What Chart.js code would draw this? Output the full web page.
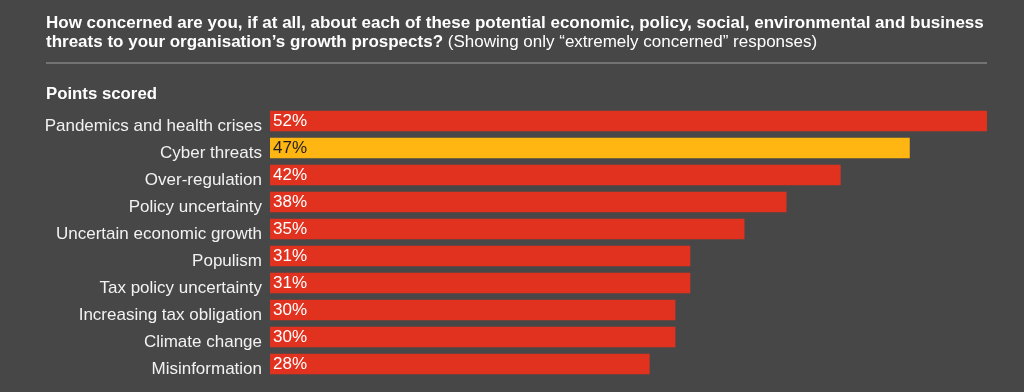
<!DOCTYPE html>
<html lang="en">
<head>
<meta charset="UTF-8" />
<title>Extremely concerned threats</title>
<style>
  html, body {
    margin: 0;
    padding: 0;
    background-color: #474747;
    font-family: 'Liberation Sans', Arial, Helvetica, sans-serif;
    color: #fff;
  }
  #wrap {
    position: relative;
    width: 1024px;
    height: 392px;
    overflow: hidden;
  }
  #title {
    position: absolute;
    left: 46px;
    top: 12.5px;
    width: 980px;
    font-size: 17px;
    line-height: 19.5px;
    font-weight: bold;
    white-space: nowrap;
  }
  #title span { font-weight: normal; }
  #rule {
    position: absolute;
    left: 46px;
    top: 61.5px;
    width: 941px;
    height: 2px;
    background: #737373;
  }
  #sub {
    position: absolute;
    left: 46px;
    top: 84px;
    font-size: 16.8px;
    font-weight: bold;
  }
  #chart {
    position: absolute;
    left: 0;
    top: 0;
  }
</style>
</head>
<body>
<div id="wrap">
  <canvas id="chart" width="1024" height="392"></canvas>
  <div id="title">How concerned are you, if at all, about each of these potential economic, policy, social, environmental and business<br>threats to your organisation’s growth prospects? <span>(Showing only “extremely concerned” responses)</span></div>
  <div id="rule"></div>
  <div id="sub">Points scored</div>
</div>
<script src="https://cdn.jsdelivr.net/npm/chart.js@4.4.0/dist/chart.umd.min.js"></script>
<script>
  // data
  const threats = ['Pandemics and health crises', 'Cyber threats', 'Over-regulation', 'Policy uncertainty',
    'Uncertain economic growth', 'Populism', 'Tax policy uncertainty', 'Increasing tax obligation',
    'Climate change', 'Misinformation'];
  const barValues = [52.9, 47.2, 42.1, 38.1, 35.0, 31.0, 31.0, 29.9, 29.9, 28.0];
  const shownPct = [52, 47, 42, 38, 35, 31, 31, 30, 30, 28];
  const highlight = [false, true, false, false, false, false, false, false, false, false];

  const RED = '#e1321f';
  const YELLOW = '#ffb612';

  // draw the % labels inside the bars
  const valueLabels = {
    id: 'valueLabels',
    afterDatasetsDraw(chart) {
      const ctx = chart.ctx;
      const meta = chart.getDatasetMeta(0);
      ctx.save();
      ctx.font = '17px "Liberation Sans", Arial, sans-serif';
      ctx.textBaseline = 'middle';
      ctx.textAlign = 'left';
      meta.data.forEach((bar, i) => {
        ctx.fillStyle = highlight[i] ? '#1e1e1e' : '#ffffff';
        ctx.fillText(shownPct[i] + '%', bar.base + 3, bar.y + 0.5);
      });
      ctx.restore();
    }
  };

  const ctx = document.getElementById('chart').getContext('2d');
  new Chart(ctx, {
    type: 'bar',
    data: {
      labels: threats,
      datasets: [{
        data: barValues,
        backgroundColor: highlight.map(h => h ? YELLOW : RED),
        borderWidth: 0,
        barThickness: 20
      }]
    },
    options: {
      indexAxis: 'y',
      responsive: false,
      animation: false,
      layout: {
        padding: { left: 0, right: 36, top: 107.5, bottom: 14.5 }
      },
      scales: {
        x: {
          display: false,
          min: 0,
          max: 53
        },
        y: {
          grid: { display: false, drawTicks: false },
          border: { display: false },
          afterFit(scale) {
            scale.width = 270;
            // labels never overflow the plot, so drop the extra padding
            scale.paddingTop = 0;
            scale.paddingBottom = 0;
          },
          ticks: {
            color: '#f2f2f2',
            padding: 8,
            labelOffset: 5,
            font: { family: '"Liberation Sans", Arial, sans-serif', size: 17 }
          }
        }
      },
      plugins: {
        legend: { display: false },
        tooltip: { enabled: false }
      }
    },
    plugins: [valueLabels]
  });
</script>
</body>
</html>
